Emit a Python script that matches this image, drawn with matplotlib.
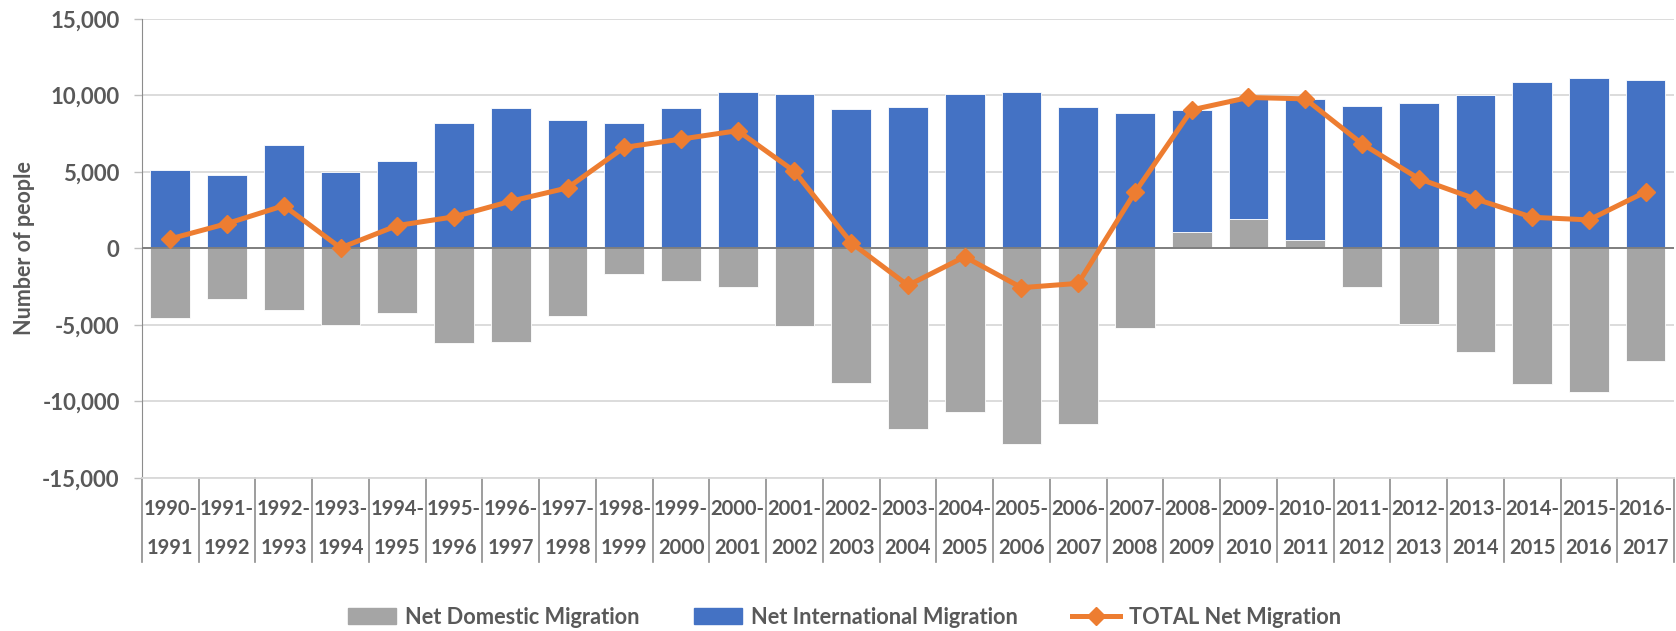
import numpy as np
import matplotlib
matplotlib.use("Agg")
import matplotlib.pyplot as plt
from matplotlib.patches import Patch
from matplotlib.lines import Line2D

# data
periods = ["1990-1991", "1991-1992", "1992-1993", "1993-1994", "1994-1995", "1995-1996",
           "1996-1997", "1997-1998", "1998-1999", "1999-2000", "2000-2001", "2001-2002",
           "2002-2003", "2003-2004", "2004-2005", "2005-2006", "2006-2007", "2007-2008",
           "2008-2009", "2009-2010", "2010-2011", "2011-2012", "2012-2013", "2013-2014",
           "2014-2015", "2015-2016", "2016-2017"]
domestic = [-4540, -3280, -4000, -5020, -4220, -6170, -6130, -4410, -1670, -2130,
            -2540, -5090, -8760, -11800, -10670, -12780, -11480, -5220,
            1110, 1960, 540, -2500, -4960, -6740, -8870, -9350, -7370]
international = [5150, 4830, 6780, 5000, 5700, 8200, 9200, 8410, 8200, 9200,
                 10200, 10110, 9090, 9280, 10110, 10240, 9240, 8850,
                 7935, 7850, 9220, 9330, 9520, 10000, 10910, 11150, 11040]
total = [630, 1630, 2800, 40, 1500, 2070, 3090, 3960, 6610, 7150,
         7700, 5040, 370, -2410, -540, -2560, -2280, 3670,
         9060, 9870, 9780, 6850, 4570, 3240, 2040, 1870, 3700]

c_dom = "#A5A5A5"
c_int = "#4472C4"
c_tot = "#ED7D31"
c_txt = "#595959"
fam = ["Lato", "DejaVu Sans"]
plt.rcParams["font.family"] = fam

fig = plt.figure(figsize=(16.76, 6.31), dpi=100)
ax = fig.add_axes([0.0847, 0.2425, 0.9141, 0.7274])

x = np.arange(len(periods))
dom = np.array(domestic)
intl = np.array(international)
base = np.where(dom > 0, dom, 0)

ax.bar(x, dom, 0.7, color=c_dom, edgecolor="white", linewidth=0.6, zorder=2)
ax.bar(x, intl, 0.7, bottom=base, color=c_int, edgecolor="white", linewidth=0.6, zorder=2)
ax.plot(x, total, color=c_tot, lw=3.6, marker="D", ms=9, zorder=4)

ax.set_xlim(-0.5, len(periods) - 0.5)
ax.set_ylim(-15000, 15000)
ax.set_yticks(np.arange(-15000, 15001, 5000))
ax.set_yticklabels([f"{v:,}" for v in range(-15000, 15001, 5000)],
                   fontsize=16, fontweight="bold", color=c_txt)
ax.tick_params(axis="y", length=6, width=1, color="#bfbfbf", pad=10)
ax.grid(axis="y", color="#d9d9d9", lw=1.3, zorder=0)
ax.axhline(0, color="#7f7f7f", lw=1.4, zorder=3)

for s in ["top", "right"]:
    ax.spines[s].set_visible(False)
ax.spines["left"].set_color("#8c8c8c")
ax.spines["bottom"].set_color("#d9d9d9")
ax.spines["bottom"].set_linewidth(1.3)

ax.set_xticks([])
trans = ax.get_xaxis_transform()
for i, p in enumerate(periods):
    a, b = p.split("-")
    ax.text(i, -0.067, a + "-", transform=trans, ha="center", va="center",
            fontsize=14.5, fontweight="bold", color=c_txt)
    ax.text(i, -0.152, b, transform=trans, ha="center", va="center",
            fontsize=14.5, fontweight="bold", color=c_txt)
for k in range(len(periods) + 1):
    ax.plot([k - 0.5, k - 0.5], [0, -0.183], transform=trans, color="#8c8c8c",
            lw=1.2, clip_on=False)

ax.set_ylabel("Number of people", fontsize=15.5, fontweight="bold", color=c_txt)
ax.yaxis.set_label_coords(-0.070, 0.5)

handles = [Patch(color=c_dom), Patch(color=c_int),
           Line2D([], [], color=c_tot, lw=3.6, marker="D", ms=9)]
labels = ["Net Domestic Migration", "Net International Migration", "TOTAL Net Migration"]
fig.legend(handles, labels, loc="center", bbox_to_anchor=(0.504, 0.022), ncol=3,
           frameon=False, handlelength=2.2, handleheight=0.8, columnspacing=2.5,
           handletextpad=0.4, prop={"size": 15.7, "weight": "bold"}, labelcolor=c_txt)

fig.savefig("out.png", dpi=100)
